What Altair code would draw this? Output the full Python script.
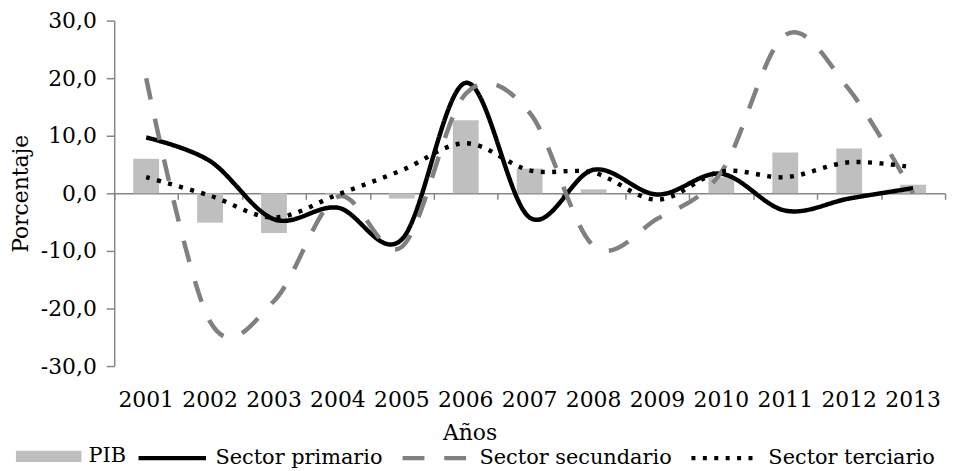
import altair as alt
import pandas as pd

years = [str(y) for y in range(2001, 2014)]
pib = [6.0, -5.1, -6.9, -0.2, -0.9, 12.7, 4.3, 0.7, -0.3, 2.8, 7.1, 7.8, 1.5]
primario = [9.7, 5.6, -4.5, -2.5, -8.0, 19.2, -4.2, 4.1, -0.2, 3.4, -3.0, -0.9, 0.9]
secundario = [20.0, -22.3, -18.7, -0.6, -9.3, 17.3, 14.0, -9.1, -4.4, 3.7, 27.5, 18.0, 0.0]
terciario = [2.8, -0.4, -4.2, -0.2, 4.0, 8.7, 4.0, 3.6, -1.1, 3.8, 2.8, 5.4, 4.5]
bar_series = ["PIB"]
line_series = ["Sector primario", "Sector secundario", "Sector terciario"]
y_ticks = [-30, -20, -10, 0, 10, 20, 30]

FONT = "DejaVu Serif"
GRAY_AXIS = "#868686"
BAR_GRAY = "#BFBFBF"
DASH_GRAY = "#808080"

df_bar = pd.DataFrame({"year": years, "value": pib, "serie": bar_series[0]})
rows = []
for name, vals in zip(line_series, [primario, secundario, terciario]):
    for yv, v in zip(years, vals):
        rows.append({"year": yv, "value": v, "serie": name})
df_lines = pd.DataFrame(rows)

common_legend = dict(
    title=None,
    orient="none",
    direction="horizontal",
    padding=0,
    labelFont=FONT,
    labelFontSize=21,
    labelColor="black",
    labelOffset=7,
    labelLimit=400,
    columnPadding=10,
)

bar_legend = alt.Legend(
    legendX=-99,
    legendY=406,
    symbolType="M-1,-0.17H1V0.17H-1Z",
    symbolSize=4356,
    symbolStrokeWidth=0,
    columns=1,
    **common_legend,
)

line_legend = alt.Legend(
    legendX=22,
    legendY=404,
    symbolType="stroke",
    symbolSize=4624,
    symbolStrokeWidth=4.5,
    columns=3,
    **common_legend,
)

y_enc = alt.Y(
    "value:Q",
    scale=alt.Scale(domain=[-30, 30], nice=False, zero=False),
    axis=alt.Axis(
        values=y_ticks,
        title="Porcentaje",
        titleFont=FONT,
        titleFontSize=22,
        titleFontWeight="normal",
        titleColor="black",
        titlePadding=8,
        labelFont=FONT,
        labelFontSize=22,
        labelColor="black",
        labelPadding=10,
        labelExpr="(datum.value < 0 ? '-' : '') + replace(format(abs(datum.value), '.1f'), '.', ',')",
        grid=False,
        domainColor=GRAY_AXIS,
        domainWidth=1.5,
        tickColor=GRAY_AXIS,
        tickWidth=1.5,
        tickSize=8,
    ),
)

x_scale = alt.Scale(domain=years, paddingInner=0, paddingOuter=0)

x_zero = alt.X(
    "year:N",
    scale=x_scale,
    axis=alt.Axis(
        orient="bottom",
        offset=-174,
        labels=False,
        title=None,
        domainColor=GRAY_AXIS,
        domainWidth=1.5,
        tickColor=GRAY_AXIS,
        tickWidth=1.5,
        tickSize=6,
        tickBand="extent",
        grid=False,
    ),
)

x_labels = alt.X(
    "year:N",
    scale=x_scale,
    axis=alt.Axis(
        orient="bottom",
        title="Años",
        titleFont=FONT,
        titleFontSize=22,
        titleFontWeight="normal",
        titleColor="black",
        titleX=358,
        titleY=57,
        labelFont=FONT,
        labelFontSize=22,
        labelColor="black",
        labelAngle=0,
        labelPadding=24,
        domain=False,
        ticks=False,
        grid=False,
    ),
)

bars = alt.Chart(df_bar).mark_bar(size=26).encode(
    x=x_zero,
    y=y_enc,
    fill=alt.Fill("serie:N", scale=alt.Scale(domain=bar_series, range=[BAR_GRAY]), legend=bar_legend),
)

lines = (
    alt.Chart(df_lines)
    .mark_line(interpolate="cardinal", tension=0, strokeWidth=4.5, strokeJoin="round")
    .encode(
        x=x_labels,
        y=y_enc,
        stroke=alt.Stroke(
            "serie:N",
            scale=alt.Scale(domain=line_series, range=["black", DASH_GRAY, "black"]),
            legend=line_legend,
        ),
        strokeDash=alt.StrokeDash(
            "serie:N",
            scale=alt.Scale(domain=line_series, range=[[1, 0], [22, 20], [4, 7.5]]),
            legend=line_legend,
        ),
    )
)

chart = (
    alt.layer(bars, lines)
    .resolve_axis(x="independent")
    .properties(
        width=837,
        height=348,
        autosize=alt.AutoSizeParams(type="none"),
        padding={"left": 107, "top": 11, "right": 9, "bottom": 104},
    )
    .configure(font=FONT)
    .configure_view(stroke=None)
)

chart.save("out.html", embed_options={"renderer": "svg", "actions": False})
